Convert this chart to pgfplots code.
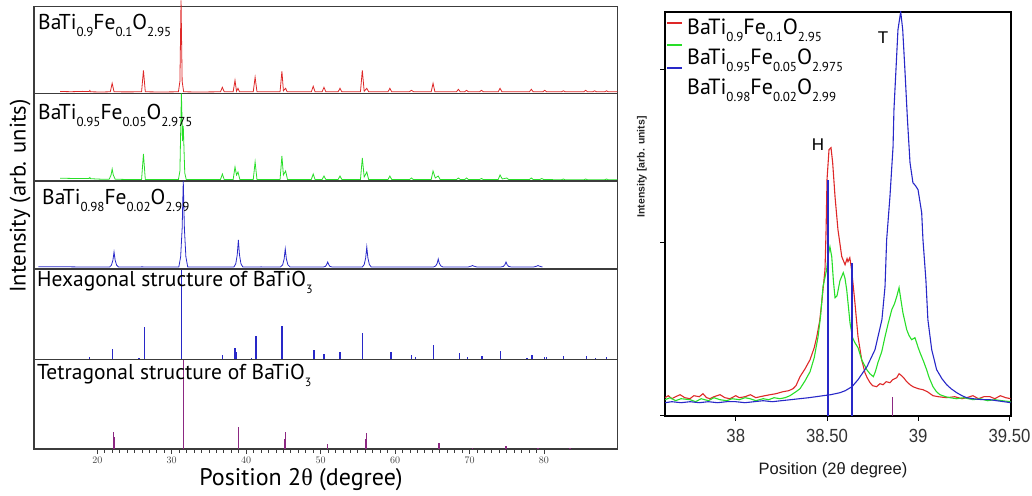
\documentclass[border=0pt]{standalone}
\usepackage{pgfplots}
\pgfplotsset{compat=1.18}
\usepackage{fontspec}
\setmainfont{PT Sans}
\newfontfamily\narrowfont{Liberation Sans}[FakeStretch=0.88]
\newfontfamily\lsans{Liberation Sans}
\newfontfamily\thetafont{Liberation Serif}
\definecolor{cred}{RGB}{222,40,40}
\definecolor{cgreen}{RGB}{40,222,40}
\definecolor{cblue}{RGB}{40,40,200}
\definecolor{cpurple}{RGB}{140,40,130}
\definecolor{framec}{RGB}{60,60,60}
\newcommand{\sub}[1]{\raisebox{-7pt}{\fontsize{13}{13}\selectfont #1}}
\newcommand{\subs}[1]{\raisebox{-7pt}{\fontsize{12}{12}\selectfont #1}}
\begin{document}
\begin{tikzpicture}
\useasboundingbox (0pt,0pt) rectangle (1032pt,495pt);
\pgfplotsset{
  leftpanel/.style={
    scale only axis, width=583.3pt, xmin=11.5, xmax=89.85, ymin=0,
    axis line style={framec, line width=1.1pt},
    xtick=\empty, ytick=\empty, anchor=south west,
  }
}
% Panel 1 red
\begin{axis}[leftpanel, at={(34pt,401.7pt)}, height=86.6pt, ymax=86.6, clip=false]
\addplot[cred, line width=0.8pt] coordinates {
(15.0,1.8) (16.5,1.6) (18.0,1.9) (18.9,1.7) (19.0,2.8) (19.1,1.5) (20.5,1.3) (21.75,1.5) (22.0,10) (22.25,1.5) (24.0,1.4) (25.95,1.5) (26.2,23) (26.45,1.5) (28.5,1.3) (30.9,1.5) (31.1,12) (31.25,93) (31.4,12) (31.6,1.5) (33.5,1.3) (36.55,1.5) (36.8,6) (37.05,1.5) (38.25,1.5) (38.5,13) (38.7,2) (38.9,5) (39.1,1.5) (40.95,1.5) (41.2,16) (41.45,1.5) (44.55,1.5) (44.8,22) (45.0,2.5) (45.3,5) (45.5,1.5) (48.75,1.5) (49.0,7) (49.25,1.5) (50.2,1.5) (50.45,6) (50.7,1.5) (52.35,1.5) (52.6,5) (52.85,1.5) (55.35,1.5) (55.6,23) (55.85,2) (56.2,5) (56.45,1.5) (59.05,1.5) (59.3,5) (59.55,1.5) (61.9,1.5) (62.2,3) (62.5,1.5) (64.85,1.5) (65.1,10) (65.35,1.5) (68.25,1.5) (68.5,4) (68.75,1.5) (69.35,1.5) (69.6,3) (69.85,1.5) (71.35,1.5) (71.6,3) (71.85,1.5) (73.85,1.5) (74.1,5) (74.35,1.5) (78.05,1.5) (78.3,4) (78.55,1.5) (79.85,1.5) (80.1,3) (80.35,1.5) (82.35,1.5) (82.6,2.5) (82.85,1.5) (85.35,1.5) (85.6,3) (85.85,1.5) (86.55,1.5) (86.8,2.5) (87.05,1.5) (88.15,1.5) (88.4,2.5) (88.65,1.5) (89.85,1.5)
};
\end{axis}
% Panel 2 green
\begin{axis}[leftpanel, at={(34pt,314pt)}, height=87.7pt, ymax=87.7]
\addplot[cgreen, line width=0.8pt] coordinates {
(15.0,2.8) (17.0,2.5) (18.9,2.6) (19.0,3.5) (19.1,2.3) (20.5,1.8) (21.6,1.8) (21.85,6) (22.0,12) (22.15,6) (22.4,1.8) (24.0,1.5) (25.95,1.5) (26.2,27) (26.45,1.5) (28.5,1.4) (30.9,1.5) (31.1,10) (31.3,87.7) (31.45,40) (31.55,55) (31.75,8) (31.95,1.5) (34,1.4) (36.55,1.5) (36.8,7) (37.05,1.5) (38.25,1.5) (38.5,14) (38.7,6) (38.9,9) (39.15,1.5) (40.95,1.5) (41.2,19) (41.45,1.5) (44.55,1.5) (44.8,25) (45.0,6) (45.3,10) (45.55,1.5) (48.75,1.5) (49.0,7) (49.25,1.5) (50.2,1.5) (50.45,5) (50.7,1.5) (52.35,1.5) (52.6,5) (52.85,1.5) (55.35,1.5) (55.6,23) (55.85,4) (56.2,9) (56.45,1.5) (59.05,1.5) (59.3,5) (59.55,1.5) (61.95,1.5) (62.2,3) (62.45,1.5) (64.85,1.5) (65.1,10) (65.4,3) (65.8,5) (66.05,1.5) (68.25,1.5) (68.5,3) (68.75,1.5) (69.35,1.5) (69.6,3) (69.85,1.5) (71.35,1.5) (71.6,2.5) (71.85,1.5) (73.85,1.5) (74.1,6) (74.4,2) (75.0,3) (75.25,1.5) (78.05,1.5) (78.3,3) (78.55,1.5) (79.45,1.5) (79.7,2.5) (79.95,1.5) (82.35,1.2) (82.6,2) (82.85,1.2) (85.35,1.2) (85.6,2) (85.85,1.2) (88.15,1.2) (88.4,2) (88.65,1.2) (89.85,1.2)
};
\end{axis}
% Panel 3 blue
\begin{axis}[leftpanel, at={(34pt,226pt)}, height=88pt, ymax=88]
\addplot[cblue, line width=0.8pt] coordinates {
(12.1,2.2) (15,2.3) (18,2.0) (21.65,2) (21.9,3.8) (22.1,8.8) (22.25,17) (22.4,8.8) (22.6,3.8) (22.85,2) (26,2.1) (30.95,2) (31.2,12.3) (31.4,40.7) (31.55,88) (31.7,40.7) (31.9,12.3) (32.15,2) (35,2) (38.35,2) (38.6,5.2) (38.8,14.2) (38.95,29) (39.1,14.2) (39.3,5.2) (39.55,2) (42,2.1) (44.6,2) (44.9,4.2) (45.1,10.1) (45.25,20) (45.4,10.1) (45.6,4.2) (45.9,2) (50.35,2) (50.65,2.6) (50.8,4.3) (50.95,7) (51.1,4.3) (51.25,2.6) (51.55,2) (55.6,2) (55.85,4.4) (56.05,11) (56.2,22) (56.35,11) (56.55,4.4) (56.8,2) (60,2) (65.15,2) (65.45,3) (65.65,5.6) (65.8,10) (65.95,5.6) (66.15,3) (66.45,2) (69.8,2) (70.2,2.8) (70.4,3.5) (70.6,2.8) (71.0,2) (74.2,2) (74.55,2.6) (74.75,4.3) (74.9,7) (75.05,4.3) (75.25,2.6) (75.6,2) (78.6,2) (79.0,2.8) (79.2,3.5) (79.4,2.8) (79.8,2)
};
\end{axis}
% Panel 4 hexagonal sticks
\begin{axis}[leftpanel, at={(34pt,135.7pt)}, height=90.3pt, ymax=90.3]
\addplot[cblue, line width=1.3pt, ycomb] coordinates {
(19.0,2.3) (22.0,10.7) (25.6,1.2) (26.3,32) (31.3,89.6) (36.8,4.7) (38.5,11.7) (38.7,7) (40.7,1.7) (41.3,23) (44.8,33) (49.1,9) (49.2,5) (50.45,5) (52.6,7) (55.6,26.7) (59.45,7) (62.2,4) (62.7,2) (65.2,14) (68.7,6.7) (69.7,2) (71.6,3.7) (71.75,3.7) (74.2,8) (77.7,1.3) (78.4,4) (80.1,2.7) (80.3,2.7) (82.6,3.7) (85.7,3) (86.9,1.7) (88.4,2.7)
};
\end{axis}
% Panel 5 tetragonal sticks
\begin{axis}[leftpanel, at={(34pt,46pt)}, height=89.7pt, ymax=89.7,
  xtick={20,30,...,80}, minor x tick num=9, xtick pos=lower,
  tick align=outside, major tick length=5pt, minor tick length=3.5pt,
  tick style={framec, line width=0.8pt},
  xticklabel style={font=\lsans\fontsize{10}{10}\selectfont, text=black!75}]
\addplot[cpurple, line width=1.3pt, ycomb] coordinates {
(22.2,16.7) (22.3,12) (31.55,89.0) (38.95,22) (45.2,10) (45.25,17) (50.9,5) (56.1,10) (56.2,16) (65.9,6) (70.4,1) (74.9,3.5) (75.0,2.5) (79.2,1) (83.5,1)
};
\end{axis}
% Right panel
\begin{axis}[at={(665pt,79.3pt)}, anchor=south west, scale only axis,
  width=345.7pt, height=404pt,
  xmin=37.612, xmax=39.507, ymin=0, ymax=404,
  axis line style={black, line width=1.8pt},
  xtick={38,38.5,39,39.5}, xticklabels={38,38.50,39,39.50},
  ytick={0,173,346}, yticklabels={},
  tick pos=left, tick align=outside, major tick length=5pt,
  tick style={black, line width=1pt},
  xticklabel style={font=\narrowfont\fontsize{19}{19}\selectfont, text=black!80, yshift=-5pt}]
\addplot[cred, line width=1.1pt] coordinates {
(37.612,18) (37.63,20) (37.65,17) (37.67,19) (37.695,21) (37.72,18) (37.749,17) (37.77,20) (37.80,19) (37.82,22) (37.84,18) (37.859,17) (37.88,19) (37.914,21) (37.94,18) (37.968,17) (38.00,20) (38.02,18) (38.051,19) (38.08,21) (38.11,18) (38.133,19) (38.16,20) (38.188,21) (38.22,22) (38.259,24) (38.29,25) (38.314,27) (38.33,30) (38.352,39) (38.38,47) (38.407,56) (38.43,68) (38.444,79) (38.46,95) (38.471,113) (38.489,146) (38.495,186) (38.50,236) (38.511,266) (38.522,268) (38.531,253) (38.544,219) (38.56,186) (38.581,159) (38.59,155) (38.599,151) (38.61,157) (38.615,154) (38.625,158) (38.635,146) (38.653,113) (38.670,79) (38.690,56) (38.708,43) (38.72,38) (38.736,33) (38.75,30) (38.772,29) (38.79,32) (38.807,31) (38.825,34) (38.845,33) (38.86,36) (38.882,38) (38.895,42) (38.909,40) (38.92,38) (38.937,34) (38.955,31) (38.971,29) (39.0,27) (39.026,26) (39.05,24) (39.081,20) (39.11,19) (39.156,18) (39.2,19) (39.24,17) (39.265,18) (39.30,20) (39.33,17) (39.36,19) (39.393,19) (39.42,17) (39.45,20) (39.48,18) (39.507,17)
};
\addplot[cgreen, line width=1.1pt] coordinates {
(37.612,16) (37.64,18) (37.67,15) (37.70,17) (37.749,16) (37.78,14) (37.81,17) (37.85,15) (37.88,18) (37.914,16) (37.95,15) (37.98,17) (38.02,16) (38.05,18) (38.078,17) (38.11,15) (38.15,17) (38.18,16) (38.21,18) (38.242,17) (38.27,18) (38.297,20) (38.33,24) (38.352,27) (38.38,35) (38.407,44) (38.43,58) (38.451,79) (38.465,100) (38.478,129) (38.498,146) (38.505,159) (38.516,169) (38.526,159) (38.535,135) (38.544,118) (38.555,120) (38.571,135) (38.589,143) (38.598,138) (38.608,126) (38.626,93) (38.640,78) (38.653,73) (38.670,68) (38.690,56) (38.718,46) (38.735,42) (38.754,39) (38.765,44) (38.779,53) (38.80,64) (38.818,79) (38.835,92) (38.855,106) (38.87,112) (38.882,119) (38.895,128) (38.905,116) (38.916,103) (38.937,86) (38.95,80) (38.964,76) (38.982,78) (39.0,68) (39.010,63) (39.03,54) (39.046,46) (39.06,38) (39.081,29) (39.10,24) (39.119,21) (39.15,19) (39.174,18) (39.21,17) (39.25,18) (39.30,16) (39.34,17) (39.38,15) (39.42,16) (39.46,15) (39.507,14)
};
\addplot[cblue, line width=1.1pt] coordinates {
(37.612,13) (37.65,14) (37.70,13) (37.75,14) (37.80,13) (37.85,14) (37.90,13) (37.95,14) (38.00,14) (38.05,13) (38.10,14) (38.15,15) (38.20,14) (38.25,15) (38.30,16) (38.35,17) (38.40,18) (38.44,19) (38.478,20) (38.52,21) (38.571,23) (38.60,25) (38.637,29) (38.670,36) (38.719,49) (38.763,66) (38.801,96) (38.818,129) (38.827,176) (38.845,219) (38.862,269) (38.867,306) (38.878,346) (38.889,386) (38.904,404) (38.915,386) (38.927,346) (38.941,296) (38.955,253) (38.971,233) (38.985,230) (38.999,226) (39.019,203) (39.026,176) (39.042,136) (39.053,96) (39.074,66) (39.101,46) (39.13,37) (39.156,31) (39.18,27) (39.211,23) (39.24,20) (39.265,18) (39.30,17) (39.35,16) (39.393,16) (39.43,15) (39.47,14) (39.507,13)
};
\addplot[cblue, line width=1.3pt, ycomb] coordinates {(38.505,236) (38.637,153)};
\addplot[cpurple, line width=1.3pt, ycomb] coordinates {(38.86,19)};
\end{axis}
% Left labels
\node[anchor=base west, inner sep=0, font=\fontsize{21.5}{24}\selectfont] at (38pt,465pt) {BaTi\sub{0.9}Fe\sub{0.1}O\sub{2.95}};
\node[anchor=base west, inner sep=0, font=\fontsize{21.5}{24}\selectfont] at (38pt,375pt) {BaTi\sub{0.95}Fe\sub{0.05}O\sub{2.975}};
\node[anchor=base west, inner sep=0, font=\fontsize{21.5}{24}\selectfont] at (42pt,290pt) {BaTi\sub{0.98}Fe\sub{0.02}O\sub{2.99}};
\node[anchor=base west, inner sep=0, font=\fontsize{21.5}{24}\selectfont] at (37pt,208pt) {Hexagonal structure of BaTiO\subs{3}};
\node[anchor=base west, inner sep=0, font=\fontsize{21.5}{24}\selectfont] at (37pt,115pt) {Tetragonal structure of BaTiO\subs{3}};
\node[rotate=90, inner sep=0, font=\fontsize{22.5}{24}\selectfont] at (20pt,299pt) {Intensity (arb. units)};
\node[anchor=base, inner sep=0, font=\fontsize{24}{26}\selectfont] at (301pt,10pt) {Position 2{\thetafont θ} (degree)};
% Right labels
\node[rotate=90, inner sep=0, font=\lsans\bfseries\fontsize{10.5}{12}\selectfont, text=black!85] at (642pt,328pt) {Intensity [arb. units]};
\node[inner sep=0, font=\lsans\fontsize{16.5}{18}\selectfont, text=black!90] at (833pt,25pt) {Position (2θ degree)};
\node[inner sep=0, font=\lsans\fontsize{17}{18}\selectfont] at (818pt,350pt) {H};
\node[inner sep=0, font=\lsans\fontsize{17}{18}\selectfont] at (883pt,457pt) {T};
% legend keys
\draw[cred, line width=1.3pt] (667pt,472pt) -- (682pt,472pt);
\draw[cgreen, line width=1.3pt] (667pt,450pt) -- (682pt,450pt);
\draw[cblue, line width=1.3pt] (667pt,427pt) -- (682pt,427pt);
\node[anchor=base west, inner sep=0, font=\fontsize{22}{24}\selectfont] at (687pt,460pt) {BaTi\sub{0.9}Fe\sub{0.1}O\sub{2.95}};
\node[anchor=base west, inner sep=0, font=\fontsize{22}{24}\selectfont] at (687pt,430pt) {BaTi\sub{0.95}Fe\sub{0.05}O\sub{2.975}};
\node[anchor=base west, inner sep=0, font=\fontsize{22}{24}\selectfont] at (687pt,400pt) {BaTi\sub{0.98}Fe\sub{0.02}O\sub{2.99}};
\end{tikzpicture}
\end{document}
